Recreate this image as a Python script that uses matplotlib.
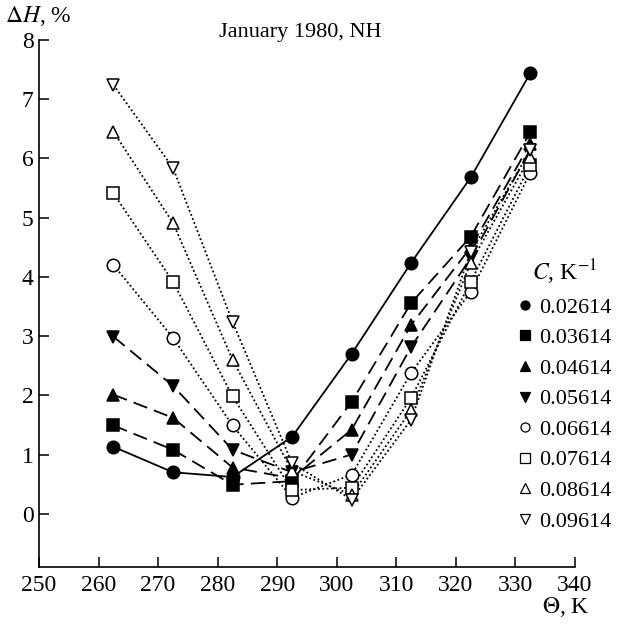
import matplotlib
matplotlib.use("Agg")
import matplotlib.pyplot as plt

plt.rcParams['font.family'] = ['Liberation Serif', 'DejaVu Serif']
plt.rcParams['mathtext.fontset'] = 'stix'

theta = [262.5, 272.5, 282.5, 292.5, 302.5, 312.5, 322.5, 332.5]
c_labels = ["0.02614", "0.03614", "0.04614", "0.05614",
            "0.06614", "0.07614", "0.08614", "0.09614"]
dh_1 = [1.13, 0.70, 0.62, 1.30, 2.70, 4.24, 5.68, 7.44]
dh_2 = [1.49, 1.08, 0.49, 0.55, 1.89, 3.56, 4.68, 6.44]
dh_3 = [2.01, 1.62, 0.78, 0.60, 1.42, 3.19, 4.50, 6.25]
dh_4 = [2.99, 2.16, 1.08, 0.70, 1.00, 2.82, 4.32, 6.15]
dh_5 = [4.20, 2.97, 1.49, 0.27, 0.66, 2.38, 3.75, 5.76]
dh_6 = [5.41, 3.92, 1.98, 0.40, 0.44, 1.96, 3.92, 5.89]
dh_7 = [6.45, 4.91, 2.60, 0.72, 0.32, 1.75, 4.24, 6.03]
dh_8 = [7.24, 5.84, 3.24, 0.85, 0.24, 1.59, 4.42, 6.14]
series = [dh_1, dh_2, dh_3, dh_4, dh_5, dh_6, dh_7, dh_8]

markers = ['o', 's', '^', 'v', 'o', 's', '^', 'v']
filled = [True, True, True, True, False, False, False, False]
styles = ['-', (0, (8, 4)), (0, (8, 4)), (0, (8, 4)),
          (0, (1, 1.4)), (0, (1, 1.4)), (0, (1, 1.4)), (0, (1, 1.4))]

fig = plt.figure(figsize=(6.25, 6.24), dpi=100)
ax = fig.add_axes([0.0624, 0.0913, 0.8576, 0.8447])

handles = []
for ys, m, f, ls, lab in zip(series, markers, filled, styles, c_labels):
    ax.plot(theta, ys, color='black', linestyle=ls, linewidth=1.3, zorder=2)
    ax.plot(theta, ys, linestyle='none', marker=m, markersize=9,
            markerfacecolor='black' if f else 'white',
            markeredgecolor='black', markeredgewidth=1.1, zorder=3)
    h, = ax.plot([], [], linestyle='none', marker=m, markersize=6.5,
                 markerfacecolor='black' if f else 'white',
                 markeredgecolor='black', markeredgewidth=0.9, label=lab)
    handles.append(h)

ax.set_xlim(250, 340)
ax.set_ylim(-0.9, 8)
ax.set_xticks(range(250, 341, 10))
ax.set_yticks(range(0, 9))
ax.spines['top'].set_visible(False)
ax.spines['right'].set_visible(False)
ax.spines['left'].set_bounds(-0.9, 8)
ax.spines['bottom'].set_bounds(250, 340)
for s in ('left', 'bottom'):
    ax.spines[s].set_linewidth(1.2)
ax.tick_params(direction='in', length=7, width=1.1, labelsize=17, pad=6)
ax.tick_params(axis='y', pad=4)

fig.text(0.008, 0.975, r'$\Delta H$, %', fontsize=17, ha='left', va='center')
fig.text(0.48, 0.948, 'January 1980, NH', fontsize=16, ha='center', va='center')
fig.text(0.905, 0.028, r'$\Theta$, K', fontsize=17, ha='center', va='center')

leg = fig.legend(handles=handles, title=r'$C$, K$^{-1}$', loc='upper left',
                 bbox_to_anchor=(0.81, 0.605), frameon=False, fontsize=16,
                 title_fontsize=17, handlelength=0.7, handletextpad=0.3,
                 labelspacing=0.45, borderpad=0.0)
leg._legend_box.align = 'center'

fig.savefig('out.png', dpi=100)
